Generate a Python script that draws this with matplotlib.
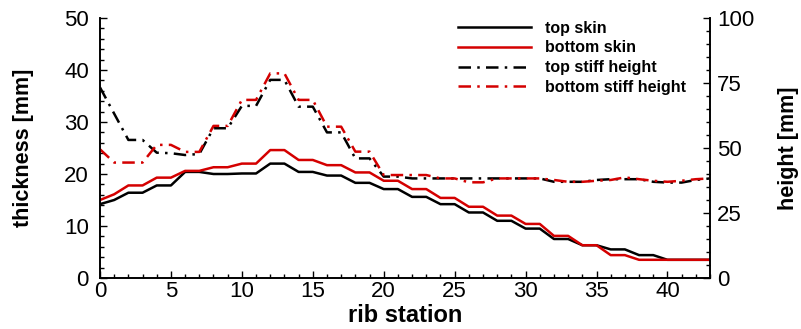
import matplotlib
matplotlib.use("Agg")
import matplotlib.pyplot as plt
from matplotlib.ticker import MultipleLocator

plt.rcParams['font.family'] = ['Liberation Sans', 'DejaVu Sans']

stations = list(range(44))
top_skin = [14.2, 15.0, 16.4, 16.4, 17.8, 17.8, 20.4, 20.4, 20.0, 20.0,
            20.1, 20.1, 22.0, 22.0, 20.4, 20.4, 19.7, 19.7, 18.3, 18.3,
            17.1, 17.1, 15.6, 15.6, 14.2, 14.2, 12.6, 12.6, 11.0, 11.0,
            9.5, 9.5, 7.5, 7.5, 6.3, 6.3, 5.5, 5.5, 4.4, 4.4,
            3.5, 3.5, 3.5, 3.5]
bottom_skin = [15.0, 16.1, 17.8, 17.8, 19.3, 19.3, 20.6, 20.6, 21.3, 21.3,
               22.0, 22.0, 24.6, 24.6, 22.7, 22.7, 21.7, 21.7, 20.3, 20.3,
               18.7, 18.7, 17.1, 17.1, 15.4, 15.4, 13.7, 13.7, 12.0, 12.0,
               10.4, 10.4, 8.1, 8.1, 6.3, 6.3, 4.4, 4.4, 3.5, 3.5,
               3.5, 3.5, 3.5, 3.5]
top_stiff = [73.3, 63.2, 53.1, 53.1, 48.2, 48.0, 47.3, 47.7, 57.6, 57.6,
             66.2, 66.2, 76.2, 76.2, 65.9, 65.9, 56.0, 56.0, 46.0, 46.0,
             39.0, 39.0, 38.3, 38.3, 38.3, 38.3, 38.3, 38.3, 38.3, 38.3,
             38.3, 38.3, 37.0, 37.0, 37.0, 37.7, 38.0, 38.0, 38.0, 37.0,
             36.7, 36.7, 37.7, 38.3]
bottom_stiff = [49.5, 44.4, 44.4, 44.4, 51.2, 51.2, 48.5, 48.5, 58.5, 58.5,
                68.5, 68.5, 78.7, 78.7, 68.5, 68.5, 58.2, 58.2, 48.6, 48.6,
                39.6, 39.6, 39.6, 39.6, 38.3, 38.3, 36.8, 36.8, 38.3, 38.3,
                38.3, 38.3, 37.7, 37.0, 37.0, 37.4, 37.7, 38.7, 38.0, 37.4,
                37.0, 37.4, 38.0, 38.3]

fig = plt.figure(figsize=(8.01, 3.29), dpi=100)
ax = fig.add_axes([100/801, 51/329, 610/801, 260/329])
ax2 = ax.twinx()

red = '#d40000'
lw = 1.8
dd = (0, (5, 2.5, 1, 2.5))
h1, = ax.plot(stations, top_skin, color='black', lw=lw, label='top skin')
h2, = ax.plot(stations, bottom_skin, color=red, lw=lw, label='bottom skin')
h3, = ax2.plot(stations, top_stiff, color='black', lw=lw, ls=dd, label='top stiff height')
h4, = ax2.plot(stations, bottom_stiff, color=red, lw=lw, ls=dd, label='bottom stiff height')

ax.set_xlim(0, 43)
ax.set_ylim(0, 50)
ax2.set_ylim(0, 100)
ax.xaxis.set_major_locator(MultipleLocator(5))
ax.xaxis.set_minor_locator(MultipleLocator(1))
ax.yaxis.set_major_locator(MultipleLocator(10))
ax.yaxis.set_minor_locator(MultipleLocator(2))
ax2.yaxis.set_major_locator(MultipleLocator(25))
ax2.yaxis.set_minor_locator(MultipleLocator(5))

for a in (ax, ax2):
    a.spines['top'].set_visible(False)
    for s in a.spines.values():
        s.set_linewidth(1.2)
    a.tick_params(which='both', direction='in', labelsize=16, width=1.0)
    a.tick_params(which='major', length=5)
    a.tick_params(which='minor', length=3)
ax.tick_params(axis='x', pad=2)
ax.tick_params(axis='y', pad=8)
ax2.tick_params(axis='y', pad=5)

ax.set_xlabel('rib station', fontsize=17, fontweight='bold')
ax.set_ylabel('thickness [mm]', fontsize=15.5, fontweight='bold')
ax2.set_ylabel('height [mm]', fontsize=15.5, fontweight='bold')
ax.xaxis.set_label_coords(0.5, -0.1)
ax.yaxis.set_label_coords(-0.108, 0.5)
ax2.yaxis.set_label_coords(1.111, 0.5)

leg = ax.legend(handles=[h1, h2, h3, h4], loc='upper right', frameon=False,
                prop={'weight': 'bold', 'size': 11.5}, handlelength=4.6,
                handletextpad=0.9, labelspacing=0.3,
                bbox_to_anchor=(0.985, 1.045))

fig.savefig('out.png', dpi=100)
